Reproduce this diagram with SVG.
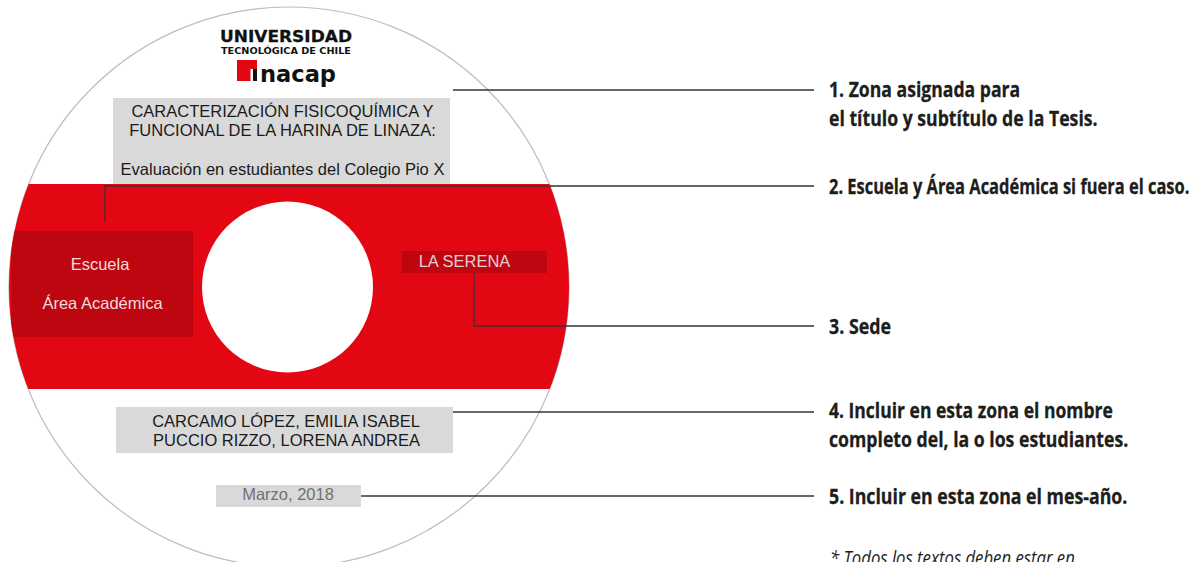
<svg xmlns="http://www.w3.org/2000/svg" width="1193" height="562" viewBox="0 0 1193 562">
<style>
.d{font-family:"Liberation Sans",Arial,sans-serif;font-size:16.5px;text-anchor:middle;fill:#1a1a1a}
.w{fill:#f0dcdc}
.n{font-family:"Open Sans","Noto Sans",sans-serif;font-weight:700;font-size:21px;fill:#1d1d1b;stroke:#1d1d1b;stroke-width:.3}
.c{fill:none;stroke:#3c3232;stroke-width:1.3}
.g{fill:#d9d9d9}
.r{fill:#be0610}
.l{font-family:"DejaVu Sans",sans-serif;font-weight:700;fill:#111}
</style>
<defs><clipPath id="disc"><circle cx="289" cy="287" r="280"/></clipPath></defs>
<g id="disco">
<circle cx="289" cy="287" r="280" fill="#fff" stroke="#bdbdbd" stroke-width="1.2"/>
<rect x="0" y="184" width="600" height="205" fill="#e30613" clip-path="url(#disc)"/>
<circle cx="287.500" cy="287" r="85.500" fill="#fff"/>
</g>
<g id="logo">
<text class="l" x="220" y="42" font-size="16.500" textLength="132" lengthAdjust="spacingAndGlyphs" stroke="#111" stroke-width=".3">UNIVERSIDAD</text>
<text class="l" x="221" y="53.500" font-size="8.200" textLength="130" lengthAdjust="spacingAndGlyphs">TECNOLÓGICA DE CHILE</text>
<path d="M237 60h20v9h-6.500v12h-13.500z" fill="#e30613"/>
<rect x="253" y="69" width="4" height="12" fill="#111"/>
<text class="l" x="260" y="81.500" font-size="23" textLength="76" lengthAdjust="spacingAndGlyphs">nacap</text>
</g>
<g id="titulo">
<rect class="g" x="113" y="98" width="337" height="86"/>
<text class="d" x="282.500" y="116.500">CARACTERIZACIÓN FISICOQUÍMICA Y</text>
<text class="d" x="282.500" y="135.500">FUNCIONAL DE LA HARINA DE LINAZA:</text>
<text class="d" x="282.500" y="174.500">Evaluación en estudiantes del Colegio Pio X</text>
</g>
<g id="escuela">
<rect class="r" x="11" y="231" width="182" height="106" clip-path="url(#disc)"/>
<text class="d w" x="100" y="269.500">Escuela</text>
<text class="d w" x="102.500" y="308.500">Área Académica</text>
</g>
<g id="sede">
<rect class="r" x="402" y="251" width="145" height="22"/>
<text class="d" x="464.500" y="267" style="fill:#e6cfd0">LA SERENA</text>
</g>
<g id="estudiantes">
<rect class="g" x="116" y="407" width="337" height="46"/>
<text class="d" x="286" y="426.500">CARCAMO LÓPEZ, EMILIA ISABEL</text>
<text class="d" x="286.500" y="445.500">PUCCIO RIZZO, LORENA ANDREA</text>
</g>
<g id="fecha">
<rect class="g" x="216" y="485" width="145" height="22"/>
<text class="d" x="288" y="500" style="fill:#707070">Marzo, 2018</text>
</g>
<g id="conectores">
<path class="c" d="M453 90H814"/>
<path class="c" d="M105 222V186H814"/>
<path class="c" d="M474 273V326H814"/>
<path class="c" d="M453 412H814"/>
<path class="c" d="M361 496H814"/>
</g>
<g id="notas">
<text class="n" transform="translate(829 97) scale(.85 1)" textLength="225" lengthAdjust="spacingAndGlyphs">1. Zona asignada para</text>
<text class="n" transform="translate(829 126) scale(.85 1)" textLength="316" lengthAdjust="spacingAndGlyphs">el título y subtítulo de la Tesis.</text>
<text class="n" transform="translate(829 194) scale(.85 1)" textLength="424" lengthAdjust="spacingAndGlyphs">2. Escuela y Área Académica si fuera el caso.</text>
<text class="n" transform="translate(829 334) scale(.85 1)" textLength="73" lengthAdjust="spacingAndGlyphs">3. Sede</text>
<text class="n" transform="translate(829 418) scale(.85 1)" textLength="334" lengthAdjust="spacingAndGlyphs">4. Incluir en esta zona el nombre</text>
<text class="n" transform="translate(829 447) scale(.85 1)" textLength="352" lengthAdjust="spacingAndGlyphs">completo del, la o los estudiantes.</text>
<text class="n" transform="translate(829 504) scale(.85 1)" textLength="351" lengthAdjust="spacingAndGlyphs">5. Incluir en esta zona el mes-año.</text>
<text transform="translate(830 565) scale(.85 1)" font-family="Open Sans,Noto Sans,sans-serif" font-style="italic" font-size="20" fill="#1d1d1b" textLength="288" lengthAdjust="spacingAndGlyphs">* Todos los textos deben estar en</text>
</g>
</svg>
